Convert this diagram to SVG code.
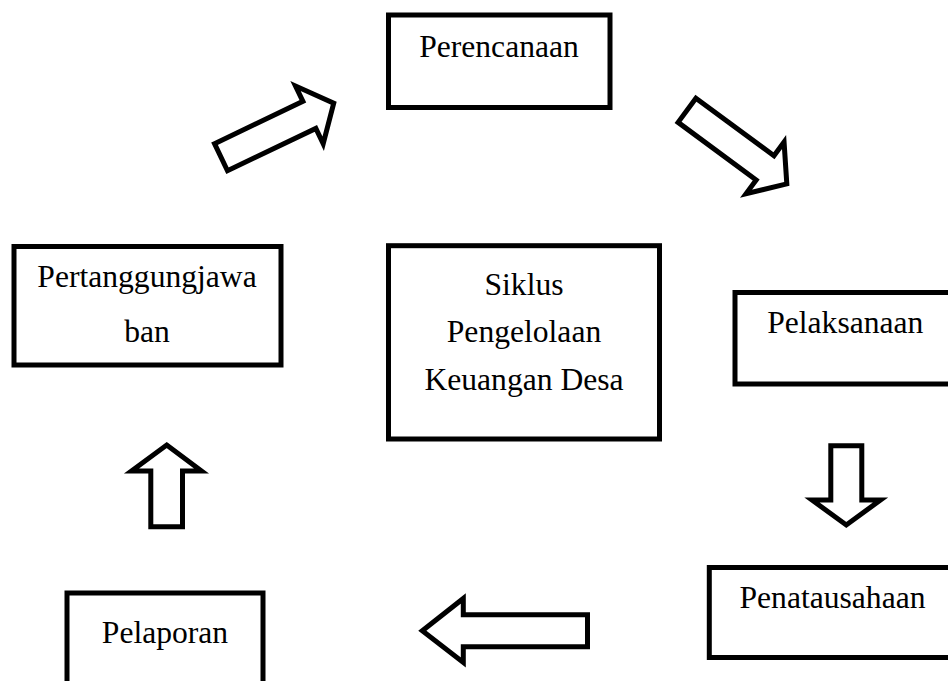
<svg xmlns="http://www.w3.org/2000/svg" width="948" height="681" viewBox="0 0 948 681">
<style>
.box{fill:#fff;stroke:#000;stroke-width:5}
.arr{fill:#fff;stroke:#000;stroke-width:5;stroke-linejoin:miter;stroke-miterlimit:10}
text{font-family:"Liberation Serif","Times New Roman",serif;font-size:31.6px;fill:#000;text-anchor:middle}
</style>
<rect width="948" height="681" fill="#fff"/>
<g id="perencanaan">
<rect class="box" x="388.5" y="15" width="221.5" height="92.5"/>
<text x="499" y="57">Perencanaan</text>
</g>
<g id="pelaksanaan">
<rect class="box" x="735" y="292.5" width="225" height="91.5"/>
<text x="845.3" y="333">Pelaksanaan</text>
</g>
<g id="penatausahaan">
<rect class="box" x="709.3" y="567.5" width="250" height="90"/>
<text x="832.5" y="608">Penatausahaan</text>
</g>
<g id="pelaporan">
<rect class="box" x="67" y="593" width="196" height="100"/>
<text x="165" y="643">Pelaporan</text>
</g>
<g id="pertanggungjawaban">
<rect class="box" x="14" y="246.5" width="267" height="118.5"/>
<text x="147" y="286.7">Pertanggungjawa</text>
<text x="147" y="341.7">ban</text>
</g>
<g id="siklus">
<rect class="box" x="388.5" y="245.7" width="271" height="193.3"/>
<text x="524" y="295">Siklus</text>
<text x="524" y="341.7">Pengelolaan</text>
<text x="524" y="390">Keuangan Desa</text>
</g>
<g id="connectors">
<polygon class="arr" transform="translate(221,157.2) rotate(-25.6)" points="0,-15 98,-15 98,-32 125,0 98,32 98,15 0,15"/>
<polygon class="arr" transform="translate(687,110.3) rotate(36.4)" points="0,-15 97,-15 97,-32 124,0 97,32 97,15 0,15"/>
<polygon class="arr" points="830.8,445.8 861.8,445.8 861.8,500 880.5,500 846.3,525 812,500 830.8,500"/>
<polygon class="arr" points="587.5,614.8 463.3,614.8 463.3,598.5 422.3,630.8 463.3,662.5 463.3,646.8 587.5,646.8"/>
<polygon class="arr" points="166.7,445 201.5,471 182.5,471 182.5,526.8 150.8,526.8 150.8,471 131.5,471"/>
</g>
</svg>
